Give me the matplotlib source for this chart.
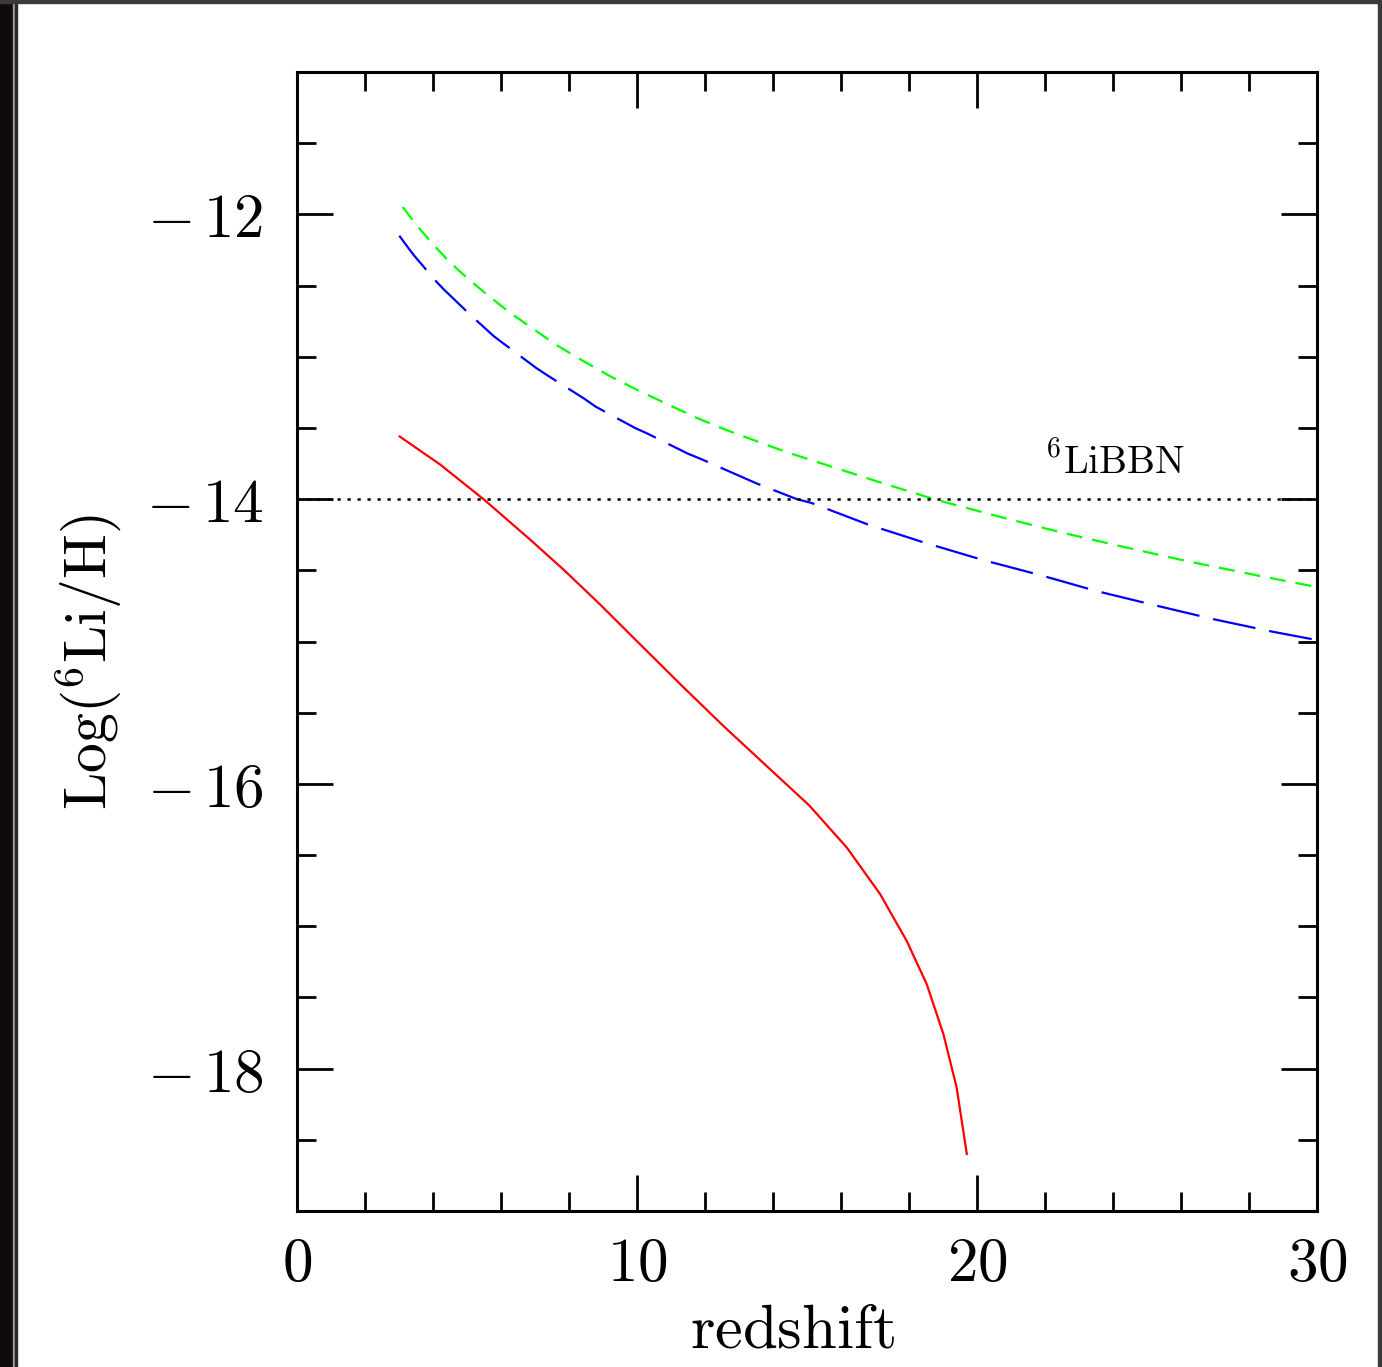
import matplotlib
matplotlib.use("Agg")
import matplotlib.pyplot as plt
from matplotlib.patches import Rectangle
from matplotlib.ticker import FixedLocator, FixedFormatter, MultipleLocator

plt.rcParams['mathtext.fontset'] = 'cm'

# --- data ---
green_z = [3.11, 3.52, 4.01, 4.50, 5.06, 5.65, 6.24, 6.95, 7.64, 8.42, 9.21, 10.04, 10.92,
           11.76, 12.64, 13.52, 14.40, 15.22, 17.04, 18.76, 20.59, 22.51, 24.43, 26.26, 28.18, 30.0]
green_y = [-11.949, -12.077, -12.213, -12.337, -12.459, -12.575, -12.686, -12.805, -12.919,
           -13.030, -13.137, -13.237, -13.336, -13.430, -13.516, -13.593, -13.670, -13.733,
           -13.874, -14.002, -14.119, -14.236, -14.342, -14.440, -14.533, -14.618]

blue_z = [3.01, 3.24, 3.44, 4.09, 4.33, 5.09, 5.79, 6.09, 7.03, 7.36, 8.42, 8.78, 9.94, 10.31,
          11.49, 11.90, 13.10, 13.52, 14.70, 15.12, 16.79, 18.46, 20.18, 21.85, 23.52, 25.24,
          26.97, 28.69, 30.0]
blue_y = [-12.150, -12.225, -12.288, -12.470, -12.530, -12.704, -12.856, -12.910, -13.078,
          -13.130, -13.290, -13.350, -13.500, -13.540, -13.680, -13.720, -13.846, -13.890,
          -14.000, -14.026, -14.178, -14.306, -14.428, -14.533, -14.646, -14.746, -14.844,
          -14.931, -14.990]

red_z = [3.02, 4.21, 5.50, 6.85, 7.83, 8.91, 9.99, 11.36, 12.54, 13.81, 15.06, 16.17, 17.15,
         17.93, 18.52, 19.01, 19.40, 19.70]
red_y = [-13.560, -13.757, -14.003, -14.283, -14.493, -14.739, -14.996, -15.320, -15.593,
         -15.874, -16.150, -16.447, -16.774, -17.102, -17.406, -17.756, -18.131, -18.599]

bbn_z = [0, 30]
bbn_y = [-14, -14]

xticks = [0, 10, 20, 30]
xtick_labels = ['$0$', '$10$', '$20$', '$30$']
yticks = [-12, -14, -16, -18]
ytick_labels = [r'$-\,12$', r'$-\,14$', r'$-\,16$', r'$-\,18$']

W, H = 1382, 1367
fig = plt.figure(figsize=(W / 100, H / 100), dpi=100)

# photo-like border
fig.add_artist(Rectangle((0, 0), 13 / W, 1, transform=fig.transFigure, color='#0e0b0a', zorder=-5))
fig.add_artist(Rectangle((13 / W, 0), 2 / W, 1, transform=fig.transFigure, color='#9a9a9a', zorder=-5))
fig.add_artist(Rectangle((15 / W, 0), 2 / W, 1, transform=fig.transFigure, color='#2a2a2a', zorder=-5))
fig.add_artist(Rectangle((0, 1 - 3 / H), 1, 3 / H, transform=fig.transFigure, color='#3a3a3a', zorder=-5))
fig.add_artist(Rectangle((1 - 4 / W, 0), 4 / W, 1, transform=fig.transFigure, color='#3a3a3a', zorder=-5))

ax = fig.add_axes([297 / W, 1 - 1211 / H, (1317 - 297) / W, (1211 - 72) / H])

ax.plot(green_z, green_y, color='#00ff00', lw=1.6, dashes=(7.2, 4.5))
ax.plot(blue_z, blue_y, color='#0000ff', lw=1.6, dashes=(19.5, 6.3))
ax.plot(red_z, red_y, color='#ff0000', lw=1.6)
ax.plot(bbn_z, bbn_y, color='black', lw=1.8, dashes=(1.3, 2.7))

ax.text(22.0, -13.82, r'$^{\mathbf{6}}\mathrm{LiBBN}$', fontsize=28.5, va='baseline', ha='left')

ax.set_xlim(0, 30)
ax.set_ylim(-19, -11)

ax.xaxis.set_major_locator(FixedLocator(xticks))
ax.xaxis.set_major_formatter(FixedFormatter(xtick_labels))
ax.xaxis.set_minor_locator(MultipleLocator(2))
ax.yaxis.set_major_locator(FixedLocator(yticks))
ax.yaxis.set_major_formatter(FixedFormatter(ytick_labels))
ax.yaxis.set_minor_locator(MultipleLocator(0.5))

ax.tick_params(which='both', direction='in', top=True, right=True, width=2.0, colors='black')
ax.tick_params(which='major', length=26, labelsize=44)
ax.tick_params(axis='x', which='major', pad=17)
ax.tick_params(axis='y', which='major', pad=24)
ax.tick_params(which='minor', length=13.5)
for s in ax.spines.values():
    s.set_linewidth(2.2)

fig.text(793 / W, 1 - 1348 / H, r'$\mathrm{redshift}$', fontsize=45, ha='center', va='baseline')
fig.text(89 / W, 1 - 662 / H, r'$\mathrm{Log}(^6\mathrm{Li/H})$', fontsize=43, rotation=90, ha='center', va='center')

fig.savefig('out.png', dpi=100)
